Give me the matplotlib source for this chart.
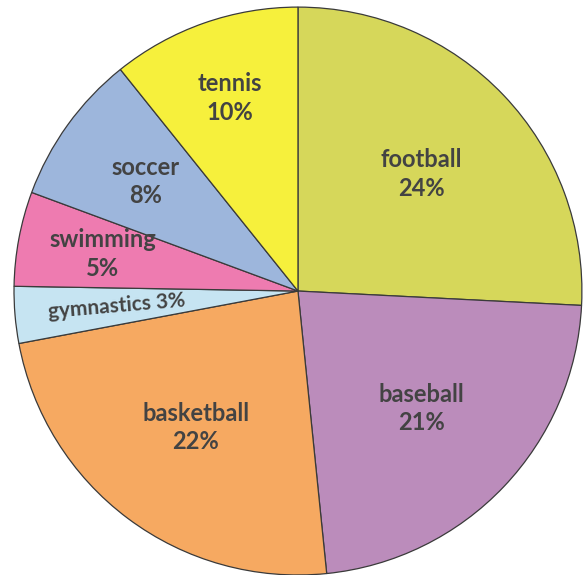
import numpy as np
import matplotlib.pyplot as plt

# Favourite sports, percentage of the group
sports = ['football', 'baseball', 'basketball', 'gymnastics',
          'swimming', 'soccer', 'tennis']
percent = [24, 21, 22, 3, 5, 8, 10]
colors = ['#d6d75a', '#bb8cbb', '#f6a961', '#c6e4f2',
          '#ee7bb0', '#9db6dc', '#f6f03c']

plt.rcParams['font.family'] = ['Lato', 'DejaVu Sans']

fig = plt.figure(figsize=(5.84, 5.75), dpi=100)
ax = fig.add_axes([0, 0, 1, 1])

wedges, _ = ax.pie(percent, colors=colors, startangle=90, counterclock=False,
                   radius=1.0,
                   wedgeprops=dict(edgecolor='#3a3a3a', linewidth=0.9))

txt = dict(ha='center', va='center', color='#434343', fontsize=17,
           fontweight='bold', linespacing=1.3)
for w, name, p in zip(wedges, sports, percent):
    mid = np.deg2rad((w.theta1 + w.theta2) / 2)
    if name == 'gymnastics':
        # thin slice: write the label along the slice
        r = 0.64
        rot = np.rad2deg(mid) + 180
        ax.text(r * np.cos(mid), r * np.sin(mid), f'{name} {p}%',
                rotation=rot, rotation_mode='anchor',
                **{**txt, 'fontsize': 15})
        continue
    r = {'swimming': 0.7, 'tennis': 0.72, 'soccer': 0.66}.get(name, 0.6)
    ax.text(r * np.cos(mid), r * np.sin(mid), f'{name}\n{p}%', **txt)

ax.set_xlim(-1.049, 1.007)
ax.set_ylim(-1.0, 1.025)
ax.set_aspect('equal')
ax.axis('off')

fig.savefig('out.png', dpi=100)
